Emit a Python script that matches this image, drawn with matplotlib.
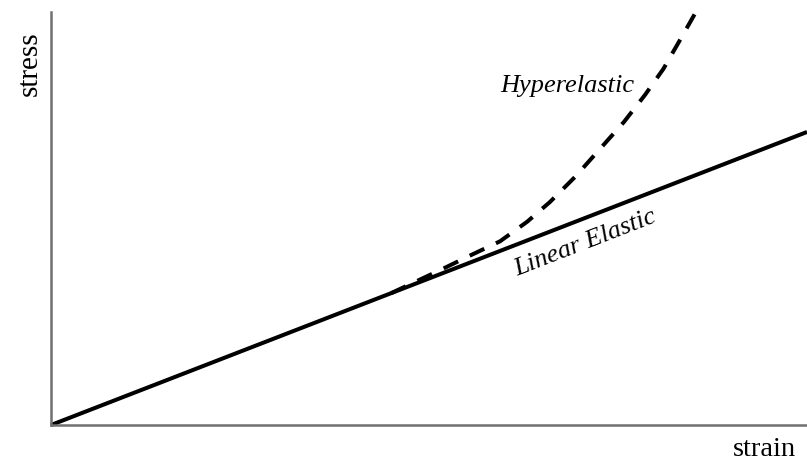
import matplotlib
matplotlib.use("Agg")
import matplotlib.pyplot as plt
import numpy as np

# Data (strain, stress in arbitrary units)
linear_strain = [0, 100]
linear_stress = [0, 38.76]

hyper_strain = [45.0, 48.1, 51.5, 55.4, 59.4, 63.0, 66.0, 69.3, 72.6, 75.8, 78.6, 81.0, 83.3, 85.4]
hyper_stress = [17.44, 18.9, 20.5, 22.4, 24.3, 26.9, 29.5, 32.8, 36.5, 40.1, 43.7, 47.1, 51.1, 54.8]

fig = plt.figure(figsize=(8.07, 4.64), dpi=100)
ax = fig.add_axes([51/807, (464-426)/464, 1 - 51/807, (426-13)/464])
ax.set_xlim(0, 100)
ax.set_ylim(0, 413/756*100)

ax.plot(linear_strain, linear_stress, color='black', lw=2.9, solid_capstyle='butt', clip_on=False)
ax.plot(hyper_strain, hyper_stress, color='black', lw=2.9, dashes=(4.0, 3.2), clip_on=False)

for s in ['top', 'right']:
    ax.spines[s].set_visible(False)
for s in ['left', 'bottom']:
    ax.spines[s].set_color('#707070')
    ax.spines[s].set_linewidth(1.8)
ax.set_xticks([])
ax.set_yticks([])

serif = ['Liberation Serif', 'DejaVu Serif']
fig.text(764/807, 1 - 450/464, 'strain', family=serif, fontsize=20.5, ha='center', va='center')
fig.text(30/807, 1 - 64/464, 'stress', family=serif, fontsize=21, ha='center', va='center', rotation=90)
fig.text(567/807, 1 - 86/464, 'Hyperelastic', family=serif, style='italic', fontsize=19, ha='center', va='center')
fig.text(585/807, 1 - 243/464, 'Linear Elastic', family=serif, style='italic', fontsize=19,
         ha='center', va='center', rotation=21.2, rotation_mode='anchor')

fig.savefig('out.png', dpi=100)
